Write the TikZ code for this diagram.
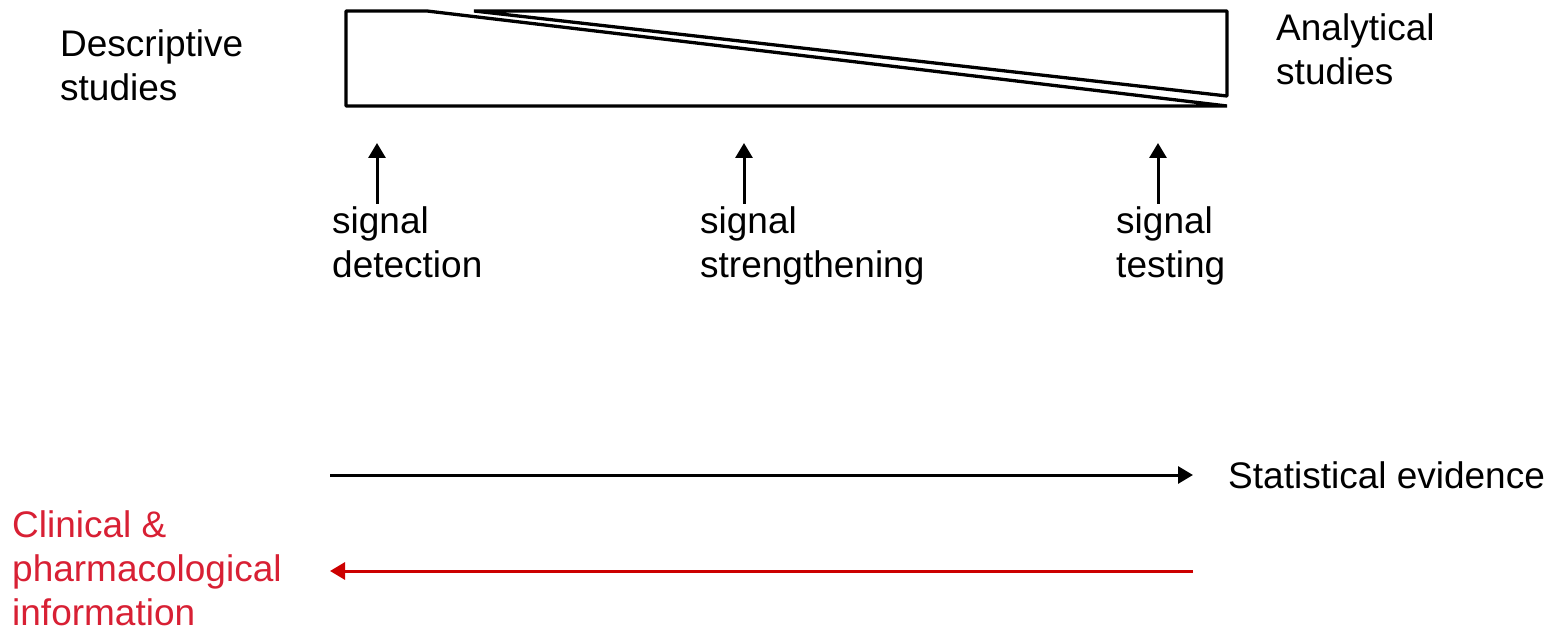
\documentclass[tikz,border=0pt]{standalone}
\usepackage{fontspec}
\setmainfont{Liberation Sans}
\usetikzlibrary{arrows.meta}
\definecolor{arrowred}{RGB}{204,0,0}
\definecolor{labelred}{RGB}{216,32,52}

\begin{document}
\begin{tikzpicture}[x=1pt,y=-1pt,
  % anchor sits on the baseline of the last line of each label
  lbl/.style={anchor=base west, inner sep=0pt, align=left,
              font=\fontsize{37}{44}\selectfont},
  outline/.style={line width=3.3pt, line join=bevel},
  pointer/.style={line width=3pt, -{Triangle[width=17pt,length=15pt]}},
]
\useasboundingbox (0,0) rectangle (1560,631);

% wedge diagram: descriptive part (lower) and analytical part (upper triangle)
\draw[outline] (346,11) -- (427,11) -- (1227,106) -- (346,106) -- cycle;
\draw[outline] (474,11) -- (1227,11) -- (1227,96) -- cycle;

% side labels
\node[lbl] (desc) at (60,101) {Descriptive\\studies};
\node[lbl] (anal) at (1276,85) {Analytical\\studies};

% signal stages
\node[lbl] (det) at (332,277) {signal\\detection};
\node[lbl] (str) at (700,277) {signal\\strengthening};
\node[lbl] (tst) at (1116,277) {signal\\testing};

\coordinate (detA) at (377,204);  \coordinate (detB) at (377,143);
\coordinate (strA) at (744,204);  \coordinate (strB) at (744,143);
\coordinate (tstA) at (1158,204); \coordinate (tstB) at (1158,143);
\draw[pointer] (detA) -- (detB);
\draw[pointer] (strA) -- (strB);
\draw[pointer] (tstA) -- (tstB);

% evidence axes
\node[lbl] (stat) at (1228,488) {Statistical evidence};
\node[lbl, text=labelred] (clin) at (12,625) {Clinical \&\\pharmacological\\information};

\coordinate (statA) at (330,475);  \coordinate (statB) at (1193,475);
\coordinate (clinA) at (1193,571); \coordinate (clinB) at (330,571);
\draw[pointer] (statA) -- (statB);
\draw[pointer, draw=arrowred, fill=arrowred] (clinA) -- (clinB);
\end{tikzpicture}
\end{document}
